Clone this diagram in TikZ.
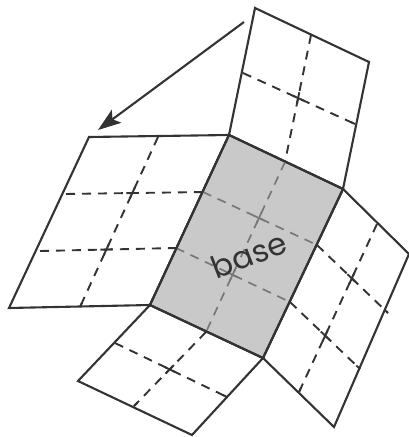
\documentclass[tikz,border=0pt]{standalone}
\usepackage{fontspec}
\setmainfont{Poppins}
\usetikzlibrary{arrows.meta,calc}
\definecolor{ink}{gray}{0.2}
\definecolor{basefill}{gray}{0.79}
\definecolor{inkfaint}{gray}{0.47}
\tikzset{
  x=1pt,y=-1pt,
  flap/.style={draw=ink,line width=2.1pt,line join=miter,fill=white},
  basepanel/.style={draw=ink,line width=2.1pt,fill=basefill},
  fold/.style={draw=ink,line width=1.9pt,dash pattern=on 9pt off 7pt},
  basefold/.style={draw=inkfaint,line width=1.7pt,dash pattern=on 9pt off 7pt},
  stub/.style={draw=ink,line width=1.9pt},
  basestub/.style={draw=inkfaint,line width=1.7pt},
  pointer/.style={draw=ink,line width=2.1pt,-{Stealth[length=23pt,width=16pt,inset=5pt]}},
  lbl/.style={font=\fontsize{31}{31}\selectfont,text=ink,rotate=21,inner sep=0pt}
}
\newcommand{\foldline}[3][fold]{\draw[#1] (#2) -- (#3);}
\newcommand{\crossing}[5][stub]{%
  \coordinate (xx) at (intersection of #2--#3 and #4--#5);
  \draw[#1] ($(xx)!6pt!(#2)$) -- ($(xx)!6pt!(#3)$);
  \draw[#1] ($(xx)!6pt!(#4)$) -- ($(xx)!6pt!(#5)$);}
\newcommand{\foldstub}[2]{\draw[stub] (#1) -- ($(#1)!5pt!(#2)$);}
\begin{document}
\begin{tikzpicture}
\useasboundingbox (0,0) rectangle (409,437);
% corners
\coordinate (A) at (229,135);
\coordinate (B) at (343,189);
\coordinate (C) at (263,358);
\coordinate (D) at (150,305);
\coordinate (T1) at (255,8);
\coordinate (T2) at (369,62);
\coordinate (L1) at (89,137);
\coordinate (L2) at (9,308);
\coordinate (Bo1) at (78,381);
\coordinate (Bo2) at (192,435);
\coordinate (R1) at (409,254);
\coordinate (R2) at (334,427);
% fold points on the base edges
\coordinate (ab) at (285,162);
\coordinate (dc) at (206,332);
\coordinate (ad1) at (203,192);
\coordinate (ad2) at (176,248);
\coordinate (bc1) at (317,245);
\coordinate (bc2) at (290,302);
% panels
\path[flap] (A) -- (T1) -- (T2) -- (B) -- cycle;
\path[flap] (A) -- (L1) -- (L2) -- (D) -- cycle;
\path[flap] (D) -- (Bo1) -- (Bo2) -- (C) -- cycle;
\path[flap] (B) -- (R1) -- (R2) -- (C) -- cycle;
\path[basepanel] (A) -- (B) -- (C) -- (D) -- cycle;
% fold end points
\coordinate (t1) at (311,35);
\coordinate (t2) at (243,73);
\coordinate (t3) at (355,124);
\coordinate (l1) at (158,137);
\coordinate (l2) at (80,307);
\coordinate (l3) at (66,194);
\coordinate (l4) at (40,251);
\coordinate (b1) at (115,343);
\coordinate (b2) at (227,397);
\coordinate (b3) at (134,406);
\coordinate (r1) at (377,224);
\coordinate (r2) at (299,392);
\coordinate (r3) at (388,313);
\coordinate (r4) at (360,369);
% dashed folds
\foldline{t1}{ab}
\foldline{t2}{t3}
\foldline{l1}{l2}
\foldline{l3}{ad1}
\foldline{l4}{ad2}
\foldline{dc}{b3}
\foldline{b1}{b2}
\foldline{r1}{r2}
\foldline{bc1}{r3}
\foldline{bc2}{r4}
\foldline[basefold]{ab}{dc}
\foldline[basefold]{ad1}{bc1}
\foldline[basefold]{ad2}{bc2}
% short solid marks where folds cross
\crossing{t1}{ab}{t2}{t3}
\crossing{l1}{l2}{l3}{ad1}
\crossing{l1}{l2}{l4}{ad2}
\crossing{dc}{b3}{b1}{b2}
\crossing{r1}{r2}{bc1}{r3}
\crossing{r1}{r2}{bc2}{r4}
\crossing[basestub]{ab}{dc}{ad1}{bc1}
\crossing[basestub]{ab}{dc}{ad2}{bc2}
% short marks where folds meet the outer edges
\foldstub{t3}{t2}
\foldstub{l2}{l1}
\foldstub{b2}{b1}
\foldstub{b3}{dc}
\foldstub{r2}{r1}
\foldstub{r3}{bc1}
\foldstub{r4}{bc2}
% redraw base outline
\path[basepanel,fill=none] (A) -- (B) -- (C) -- (D) -- cycle;
% label
\node[lbl] (baselabel) at (249,255) {base};
% arrow
\coordinate (arrowstart) at (244,22);
\coordinate (arrowend) at (98,130);
\draw[pointer] (arrowstart) -- (arrowend);
\end{tikzpicture}
\end{document}
